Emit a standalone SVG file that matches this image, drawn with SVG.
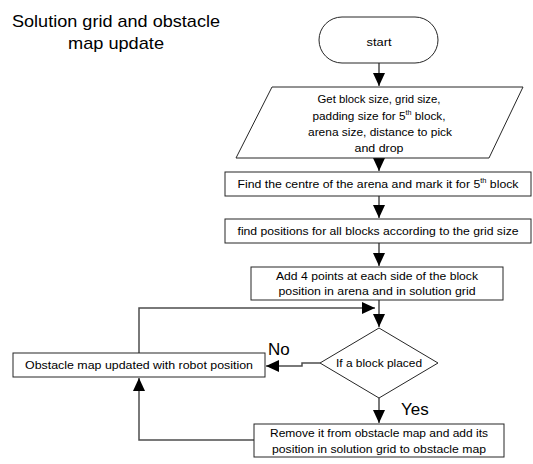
<svg xmlns="http://www.w3.org/2000/svg" width="533" height="464" viewBox="0 0 533 464">
<defs>
<style>
.shape{fill:#fff;stroke:#262626;stroke-width:1}
.t{font-family:"Liberation Sans",Arial,sans-serif;font-size:11.5px;fill:#000;text-anchor:middle}
.title{font-family:"Liberation Sans",Arial,sans-serif;font-size:17px;fill:#000;text-anchor:middle}
.lbl{font-family:"Liberation Sans",Arial,sans-serif;font-size:17px;fill:#000}
.c{fill:none;stroke:#4d4d4d;stroke-width:1.5}
</style>
<marker id="ah" markerUnits="userSpaceOnUse" markerWidth="14" markerHeight="12" refX="13" refY="6" orient="auto">
<path d="M0,0 L13,6 L0,12 Z" fill="#000"/>
</marker>
</defs>
<g id="title">
<text class="title" x="116" y="27" textLength="208" lengthAdjust="spacingAndGlyphs">Solution grid and obstacle</text>
<text class="title" x="116" y="49" textLength="96" lengthAdjust="spacingAndGlyphs">map update</text>
</g>
<g id="connectors">
<path class="c" d="M379,63 V86" marker-end="url(#ah)"/>
<path class="c" d="M379,158 V171" marker-end="url(#ah)"/>
<path class="c" d="M379,196 V218" marker-end="url(#ah)"/>
<path class="c" d="M379,243 V266" marker-end="url(#ah)"/>
<path class="c" d="M379,300 V327" marker-end="url(#ah)"/>
<path class="c" d="M139,353 V308 H375" marker-end="url(#ah)"/>
<path class="c" d="M320,363 H302 V366 H266" marker-end="url(#ah)"/>
<path class="c" d="M379,398 V423" marker-end="url(#ah)"/>
<path class="c" d="M254,440 H139 V378" marker-end="url(#ah)"/>
<text class="lbl" x="268" y="355">No</text>
<text class="lbl" x="401" y="415">Yes</text>
</g>
<g id="start">
<rect class="shape" x="319" y="17" width="119" height="46" rx="23" ry="23"/>
<text class="t" x="379" y="46" textLength="25" lengthAdjust="spacingAndGlyphs">start</text>
</g>
<g id="input">
<polygon class="shape" points="272,87 523,87 489,158 236,158"/>
<text class="t" x="379" y="103" textLength="123" lengthAdjust="spacingAndGlyphs">Get block size, grid size,</text>
<text class="t" x="379" y="120" textLength="133" lengthAdjust="spacingAndGlyphs">padding size for 5<tspan font-size="7" dy="-5">th</tspan><tspan dy="5"> block,</tspan></text>
<text class="t" x="380" y="136" textLength="144" lengthAdjust="spacingAndGlyphs">arena size, distance to pick</text>
<text class="t" x="379" y="152" textLength="49" lengthAdjust="spacingAndGlyphs">and drop</text>
</g>
<g id="centre">
<rect class="shape" x="225" y="172" width="306" height="24"/>
<text class="t" x="378" y="188" textLength="281" lengthAdjust="spacingAndGlyphs">Find the centre of the arena and mark it for 5<tspan font-size="7" dy="-5">th</tspan><tspan dy="5"> block</tspan></text>
</g>
<g id="positions">
<rect class="shape" x="225" y="219" width="306" height="24"/>
<text class="t" x="378" y="235" textLength="281" lengthAdjust="spacingAndGlyphs">find positions for all blocks according to the grid size</text>
</g>
<g id="addpoints">
<rect class="shape" x="251" y="267" width="252" height="33"/>
<text class="t" x="377" y="280" textLength="202" lengthAdjust="spacingAndGlyphs">Add 4 points at each side of the block</text>
<text class="t" x="377" y="295" textLength="197" lengthAdjust="spacingAndGlyphs">position in arena and in solution grid</text>
</g>
<g id="decision">
<polygon class="shape" points="379,328 438,363 379,398 320,363"/>
<text class="t" x="379" y="367" textLength="86" lengthAdjust="spacingAndGlyphs">If a block placed</text>
</g>
<g id="obstacle">
<rect class="shape" x="13" y="353" width="252" height="24"/>
<text class="t" x="139" y="369" textLength="228" lengthAdjust="spacingAndGlyphs">Obstacle map updated with robot position</text>
</g>
<g id="remove">
<rect class="shape" x="254" y="424" width="250" height="33"/>
<text class="t" x="379" y="437" textLength="218" lengthAdjust="spacingAndGlyphs">Remove it from obstacle map and add its</text>
<text class="t" x="379" y="453" textLength="214" lengthAdjust="spacingAndGlyphs">position in solution grid to obstacle map</text>
</g>
</svg>
